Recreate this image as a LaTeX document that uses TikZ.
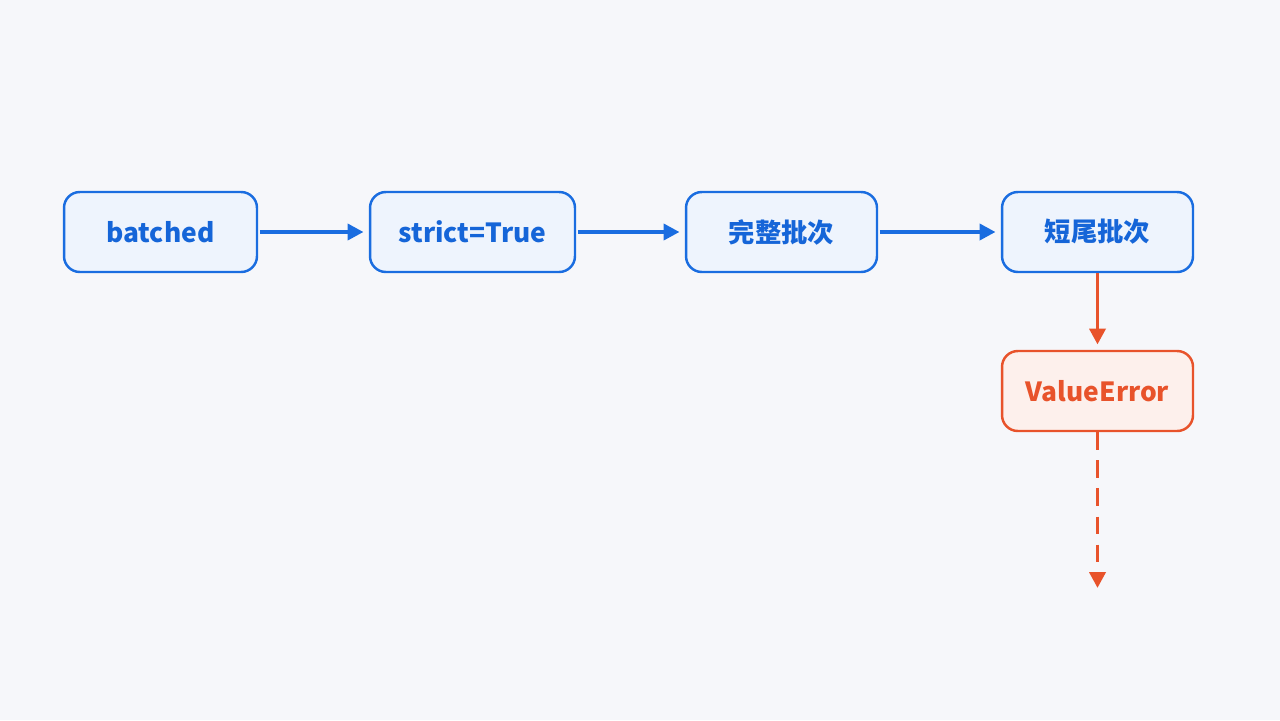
\documentclass[tikz,border=0pt]{standalone}
\usepackage{fontspec}
\setmainfont{Noto Sans CJK SC}
\usetikzlibrary{arrows.meta}
\definecolor{bluetext}{HTML}{1565D8}
\definecolor{blueline}{HTML}{1A6DE0}
\definecolor{bluefill}{HTML}{EEF4FD}
\definecolor{redline}{HTML}{E8532B}
\definecolor{redfill}{HTML}{FDF0EC}
\definecolor{bg}{HTML}{F6F7FA}
\begin{document}
\begin{tikzpicture}[x=0.02cm, y=-0.02cm, >={Triangle[length=9pt, width=9pt]},
    box/.style={rectangle, rounded corners=9pt, draw=blueline, line width=1.4pt, fill=bluefill,
        text=bluetext, font=\bfseries\fontsize{15}{18}\selectfont, minimum height=1.6cm},
    errbox/.style={box, draw=redline, fill=redfill, text=redline},
    flow/.style={->, line width=2.2pt, blueline, shorten >=3pt, shorten <=1pt},
    fail/.style={->, line width=2.2pt, redline, shorten >=3pt}]
    \fill[bg] (0,0) rectangle (1280,720);
    \node (batched) [box, minimum width=3.86cm] at (160.5,232) {batched};
    \node (strict) [box, minimum width=4.1cm] at (472.5,232) {strict=True};
    \node (full) [box, minimum width=3.82cm] at (781.5,232) {完整批次};
    \node (tail) [box, minimum width=3.82cm] at (1097.5,232) {短尾批次};
    \node (err) [errbox, minimum width=3.82cm] at (1097.5,391) {ValueError};
    \coordinate (out) at (1097.5,588);
    \draw[flow] (batched) -- (strict);
    \draw[flow] (strict) -- (full);
    \draw[flow] (full) -- (tail);
    \draw[fail] (tail) -- (err);
    \draw[fail, dash pattern=on 10pt off 6pt, shorten >=0pt] (err) -- (out);
\end{tikzpicture}
\end{document}
